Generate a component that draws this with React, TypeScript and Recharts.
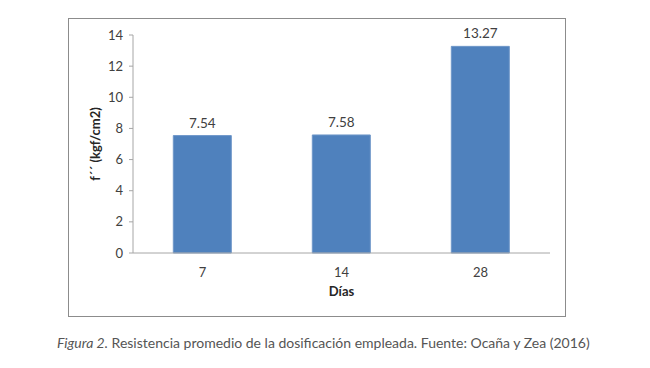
import { Bar, BarChart, XAxis, YAxis, LabelList, Label } from "recharts"

const days = ["7", "14", "28"]
const strength = [7.54, 7.58, 13.27]
const yTicks = [0, 2, 4, 6, 8, 10, 12, 14]

const data = days.map((d, i) => ({ day: d, value: strength[i] }))

const font = "Lato, 'Open Sans', sans-serif"

function YTitle(props: any) {
  const vb = props.viewBox || { x: 0, y: 0, height: 0 }
  const cx = 95
  const cy = vb.y + vb.height / 2
  return (
    <text
      x={cx}
      y={cy}
      transform={`rotate(-90 ${cx} ${cy})`}
      textAnchor="middle"
      dominantBaseline="central"
      fontFamily={font}
      fontSize={13}
      fontWeight="bold"
      fill="#262626"
    >
      f´´ (kgf/cm2)
    </text>
  )
}

export default function App() {
  return (
    <div style={{ position: "absolute", left: 0, top: 0, width: 650, height: 368, background: "#fff" }}>
      <div
        style={{
          position: "absolute",
          left: 68,
          top: 18,
          width: 496,
          height: 297,
          border: "1.5px solid #8c8c8c",
        }}
      />
      <div style={{ position: "absolute", left: 0, top: 0 }}>
        <BarChart
          width={650}
          height={368}
          data={data}
          margin={{ top: 35, right: 100, bottom: 85, left: 93 }}
          barCategoryGap="29%"
        >
          <XAxis
            dataKey="day"
            height={30}
            tickLine={false}
            axisLine={{ stroke: "#a6a6a6" }}
            tickMargin={9}
            tick={{ fill: "#404040", fontSize: 13, fontFamily: font }}
          >
            <Label
              value="Días"
              position="bottom"
              offset={4}
              fill="#262626"
              fontSize={13}
              fontWeight="bold"
              fontFamily={font}
            />
          </XAxis>
          <YAxis
            width={40}
            domain={[0, 14]}
            ticks={yTicks}
            interval={0}
            tickSize={4}
            tickMargin={6}
            tickLine={{ stroke: "#a6a6a6" }}
            axisLine={{ stroke: "#a6a6a6" }}
            tick={{ fill: "#404040", fontSize: 13, fontFamily: font }}
            label={<YTitle />}
          />
          <Bar dataKey="value" fill="#4f81bd" stroke="#6f97c9" strokeWidth={1} isAnimationActive={false}>
            <LabelList
              dataKey="value"
              position="top"
              offset={8}
              fill="#404040"
              fontSize={13.5}
              fontFamily={font}
              formatter={(v: any) => Number(v).toFixed(2)}
            />
          </Bar>
        </BarChart>
      </div>
      <div
        style={{
          position: "absolute",
          left: 57,
          top: 334,
          fontFamily: font,
          fontSize: 14,
          color: "#555",
          whiteSpace: "nowrap",
        }}
      >
        <i>Figura 2.</i> Resistencia promedio de la dosificación empleada. Fuente: Ocaña y Zea (2016)
      </div>
    </div>
  )
}
